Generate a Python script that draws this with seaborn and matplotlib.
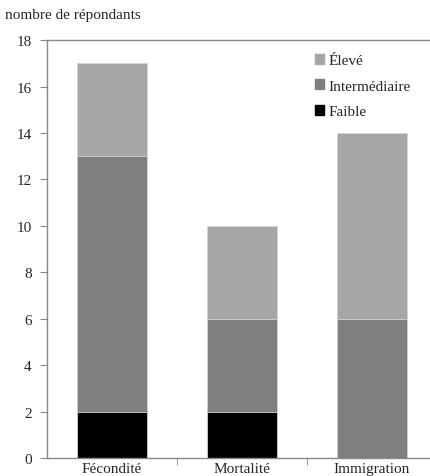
import pandas as pd
import seaborn as sns
import matplotlib.pyplot as plt
from matplotlib.patches import Patch

categories = ["Fécondité", "Mortalité", "Immigration"]
faible = [2, 2, 0]
intermediaire = [11, 4, 6]
eleve = [4, 4, 8]

df = pd.DataFrame({"cat": categories, "faible": faible,
                   "inter": intermediaire, "eleve": eleve})
df["lvl2"] = df["faible"] + df["inter"]
df["lvl3"] = df["lvl2"] + df["eleve"]

sns.set_style("white")
plt.rcParams["font.family"] = ["Liberation Serif", "DejaVu Serif"]

fig = plt.figure(figsize=(4.30, 4.77), dpi=100)
ax = fig.add_axes([0.109, 0.0377, 0.907, 0.876])

col_e, col_i, col_f = "#a6a6a6", "#7f7f7f", "#000000"
kw = dict(width=0.54, edgecolor="#d4d4d4", linewidth=0.6, ax=ax)
sns.barplot(df, x="cat", y="lvl3", color=col_e, **kw)
sns.barplot(df, x="cat", y="lvl2", color=col_i, **kw)
sns.barplot(df, x="cat", y="faible", color=col_f, **kw)

ax.set_xlim(-0.5, 2.5)
ax.set_ylim(0, 18)
ax.set_yticks(range(0, 19, 2))
ax.set_xlabel("")
ax.set_ylabel("")
ax.set_xticks([0.5, 1.5], minor=True)
ax.tick_params(axis="x", which="major", length=0, pad=3, labelsize=11)
ax.tick_params(axis="x", which="minor", length=5, color="#888888", direction="out", bottom=True)
ax.tick_params(axis="y", length=5, color="#888888", direction="out", left=True, labelsize=11, pad=6)

for s in ["left", "bottom", "top"]:
    ax.spines[s].set_color("#888888")
    ax.spines[s].set_linewidth(1)
ax.spines["right"].set_visible(False)

fig.text(0.012, 0.967, "nombre de répondants", fontsize=11, va="center")

handles = [Patch(color=col_e, label="Élevé"),
           Patch(color=col_i, label="Intermédiaire"),
           Patch(color=col_f, label="Faible")]
ax.legend(handles=handles, loc="upper left", bbox_to_anchor=(0.652, 1.0),
          frameon=False, fontsize=11, handlelength=0.6, handleheight=0.6,
          handletextpad=0.3, labelspacing=0.8)

fig.savefig("out.png", dpi=100)
